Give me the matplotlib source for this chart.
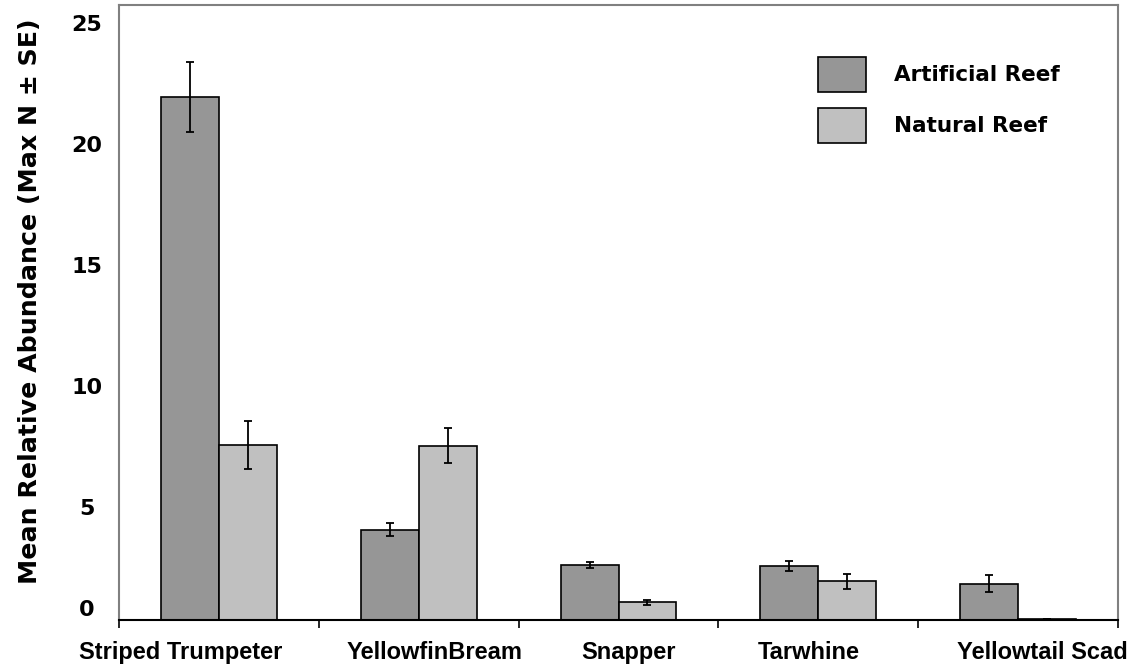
import numpy as np
import matplotlib
matplotlib.use("Agg")
import matplotlib.pyplot as plt
from matplotlib.transforms import ScaledTranslation

plt.rcParams['font.family'] = ['Liberation Sans', 'DejaVu Sans']
plt.rcParams['font.weight'] = 'bold'

# data
species = ["Striped Trumpeter", "YellowfinBream", "Snapper", "Tarwhine", "Yellowtail Scad"]
artificial = [21.6, 3.72, 2.27, 2.23, 1.49]
artificial_se = [1.45, 0.27, 0.12, 0.22, 0.35]
natural = [7.23, 7.19, 0.74, 1.6, 0.04]
natural_se = [1.0, 0.72, 0.1, 0.3, 0.0]
yticks = [0, 5, 10, 15, 20, 25]

# label placement as in the original (not centred under the groups)
label_shift = [-0.19, 0.08, 0.05, -0.05, 0.12]

fig = plt.figure(figsize=(11.45, 6.7), dpi=100)
ax = fig.add_axes([119/1145, 50/670, 999/1145, 615/670])

x = np.arange(len(species))
w = 0.29
err_kw = dict(ecolor='black', elinewidth=1.3, capsize=3, capthick=1.3)
ax.bar(x - w/2, artificial, w, yerr=artificial_se, color='#969696', edgecolor='black',
       linewidth=1.2, label='Artificial Reef', error_kw=err_kw)
ax.bar(x + w/2, natural, w, yerr=natural_se, color='#c0c0c0', edgecolor='black',
       linewidth=1.2, label='Natural Reef', error_kw=err_kw)

ax.set_xlim(-0.5, len(species) - 0.5)
ax.set_ylim(0, 25.4)

# category labels on (invisible) major ticks, boundary marks on minor ticks
ax.set_xticks(x + np.array(label_shift))
ax.set_xticklabels(species, fontsize=17, fontweight='bold', family='Liberation Sans')
ax.set_xticks(np.arange(len(species) + 1) - 0.5, minor=True)
ax.tick_params(axis='x', which='major', length=0, pad=15)
ax.tick_params(axis='x', which='minor', length=6, width=1.2, direction='out', color='black')

ax.set_yticks(yticks)
ax.set_yticklabels([str(v) for v in yticks], fontsize=16, fontweight='bold', family='DejaVu Sans')
ax.tick_params(axis='y', length=0, pad=23)
for v, lab in zip(yticks, ax.get_yticklabels()):
    lab.set_horizontalalignment('center')
    dy = 12 if v == 0 else -8
    lab.set_transform(lab.get_transform() + ScaledTranslation(0, dy/100, fig.dpi_scale_trans))

ax.set_ylabel("Mean Relative Abundance (Max N \u00b1 SE)", fontsize=18.2, fontweight='bold',
              family='DejaVu Sans')
ax.yaxis.set_label_coords(-0.077, 0.519)

for s in ['left', 'top', 'right']:
    ax.spines[s].set_color('#808080')
    ax.spines[s].set_linewidth(1.5)
ax.spines['bottom'].set_color('black')
ax.spines['bottom'].set_linewidth(1.5)

leg = ax.legend(loc='upper left', bbox_to_anchor=(818/1145, 1 - 57/670), bbox_transform=fig.transFigure,
                frameon=False, prop={'family': 'DejaVu Sans', 'weight': 'bold', 'size': 15.5},
                handlelength=2.25, handleheight=2.15, labelspacing=0.72, handletextpad=1.3,
                borderpad=0, borderaxespad=0)

fig.savefig("out.png", dpi=100)
